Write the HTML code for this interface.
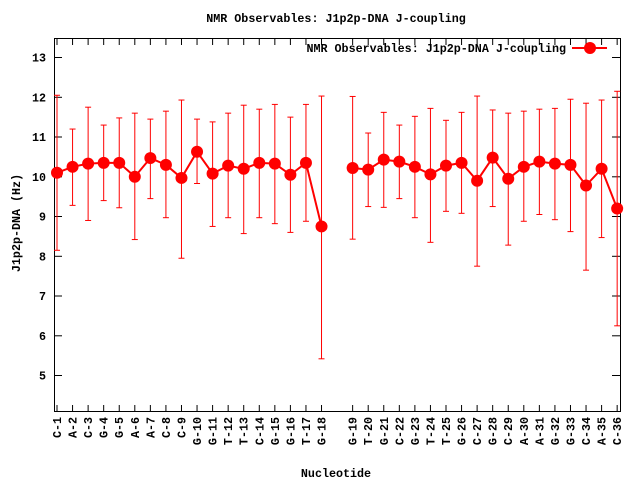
<!DOCTYPE html>
<html><head><meta charset="utf-8"><style>
body{margin:0;background:#fff}
svg text{font-family:"Liberation Mono","DejaVu Sans Mono",monospace;font-weight:bold;font-size:11.7px;fill:#000}
</style></head><body>
<svg id="s" width="640" height="480" xmlns="http://www.w3.org/2000/svg">
<rect width="640" height="480" fill="#fff"/>
<text x="336" y="22" text-anchor="middle">NMR Observables: J1p2p-DNA J-coupling</text>
<text x="336" y="477" text-anchor="middle">Nucleotide</text>
<text transform="translate(20,223) rotate(-90)" text-anchor="middle">J1p2p-DNA (Hz)</text>
<rect x="54.5" y="38.5" width="566" height="373" fill="none" stroke="#000" stroke-width="1"/>
<g id="g"></g>
<text x="566" y="52" text-anchor="end">NMR Observables: J1p2p-DNA J-coupling</text>
<line x1="572" y1="48" x2="607" y2="48" stroke="#f00" stroke-width="2"/>
<circle cx="590" cy="48" r="6" fill="#f00"/>
</svg>
<script>
var d=[["C-1",10.1,8.15,12.05],["A-2",10.25,9.28,11.2],["C-3",10.33,8.9,11.75],["G-4",10.35,9.4,11.3],["G-5",10.35,9.22,11.48],["A-6",10.0,8.42,11.6],["A-7",10.47,9.45,11.45],["C-8",10.3,8.97,11.65],["C-9",9.97,7.95,11.93],["G-10",10.63,9.83,11.45],["G-11",10.08,8.75,11.38],["T-12",10.28,8.97,11.6],["T-13",10.2,8.57,11.8],["C-14",10.35,8.97,11.7],["G-15",10.33,8.82,11.82],["G-16",10.05,8.6,11.5],["T-17",10.35,8.88,11.82],["G-18",8.75,5.42,12.03],null,["G-19",10.22,8.43,12.02],["T-20",10.18,9.25,11.1],["G-21",10.43,9.23,11.62],["C-22",10.38,9.45,11.3],["G-23",10.25,8.97,11.52],["T-24",10.06,8.35,11.72],["T-25",10.28,9.13,11.42],["G-26",10.35,9.08,11.62],["C-27",9.9,7.75,12.03],["G-28",10.48,9.25,11.68],["C-29",9.95,8.28,11.6],["A-30",10.25,8.88,11.65],["A-31",10.38,9.05,11.7],["G-32",10.33,8.92,11.72],["G-33",10.3,8.62,11.95],["C-34",9.78,7.65,11.85],["A-35",10.2,8.47,11.93],["C-36",9.2,6.25,12.15]];
function Y(v){return 176.75-(v-10)*39.75}
var h="";
for(var v=5;v<=13;v++){var y=Y(v).toFixed(1);h+='<line x1="54" y1="'+y+'" x2="62" y2="'+y+'" stroke="#000"/><line x1="612" y1="'+y+'" x2="620" y2="'+y+'" stroke="#000"/><text x="46" y="'+(Y(v)+4)+'" text-anchor="end">'+v+'</text>';}
var pts=[],segs=[];
d.forEach(function(e,i){var x=57+i*15.56;
 if(!e){if(pts.length)segs.push(pts);pts=[];return;}
 h+='<line x1="'+x+'" y1="412" x2="'+x+'" y2="405" stroke="#000"/><line x1="'+x+'" y1="38" x2="'+x+'" y2="45" stroke="#000"/>';
 h+='<text transform="translate('+(x+4)+',417) rotate(-90)" text-anchor="end">'+e[0]+'</text>';
 h+='<line x1="'+x+'" y1="'+Y(e[2])+'" x2="'+x+'" y2="'+Y(e[3])+'" stroke="#f00"/>';
 h+='<line x1="'+(x-3)+'" y1="'+Y(e[2])+'" x2="'+(x+3)+'" y2="'+Y(e[2])+'" stroke="#f00"/>';
 h+='<line x1="'+(x-3)+'" y1="'+Y(e[3])+'" x2="'+(x+3)+'" y2="'+Y(e[3])+'" stroke="#f00"/>';
 pts.push([x,Y(e[1])]);});
segs.push(pts);
segs.forEach(function(p){h+='<polyline fill="none" stroke="#f00" stroke-width="2" points="'+p.map(function(q){return q.join(",")}).join(" ")+'"/>';
 p.forEach(function(q){h+='<circle cx="'+q[0]+'" cy="'+q[1]+'" r="6" fill="#f00"/>';});});
document.getElementById("g").innerHTML=h;
</script>
</body></html>
